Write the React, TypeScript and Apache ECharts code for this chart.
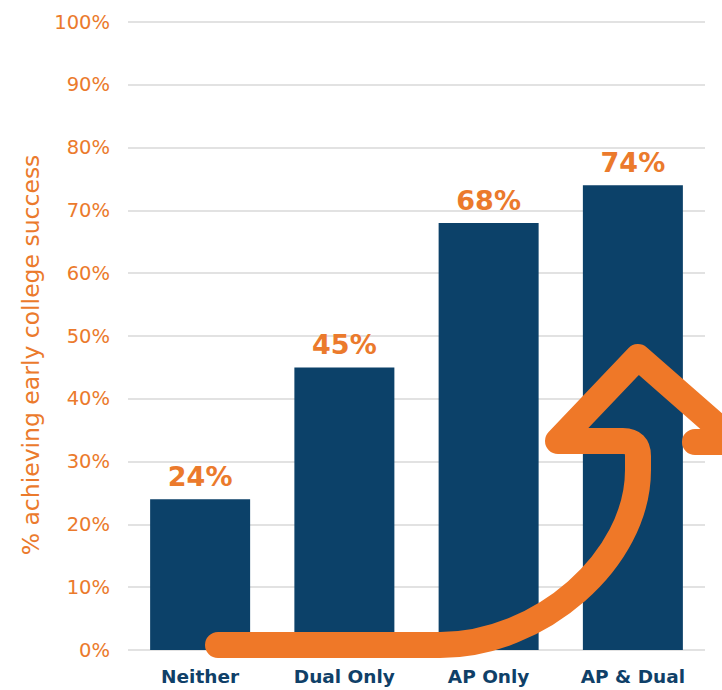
import React, { useEffect, useRef } from "react";
import * as echarts from "echarts";

const categories = ["Neither", "Dual Only", "AP Only", "AP & Dual"];
const values = [24, 45, 68, 74];
const yMin = 0;
const yMax = 100;
const yInterval = 10;
const axisTitle = "% achieving early college success";

const ORANGE_TEXT = "#EB7A2C";
const ORANGE_ARROW = "#EF7828";
const NAVY = "#0C4169";
const NAVY_TEXT = "#0F4068";

const ARROW_D =
  "M218 645 L440 645 C540 645 638 560 638 470 L638 456 Q638 441 623 441 L558 441 L638 357 L735 442 L695 442";

echarts.graphic.registerShape("logo", echarts.graphic.extendPath(ARROW_D, {}));

export default function App() {
  const ref = useRef<HTMLDivElement>(null);
  useEffect(() => {
    document.body.style.margin = "0";
    if (!ref.current) return;
    const chart = echarts.init(ref.current, undefined, { renderer: "svg" });
    chart.setOption({
      animation: false,
      backgroundColor: "#ffffff",
      grid: { left: 128, right: 17, top: 22, bottom: 40, containLabel: false },
      xAxis: {
        type: "category",
        data: categories,
        axisLine: { show: false },
        axisTick: { show: false },
        axisLabel: {
          color: NAVY_TEXT,
          fontFamily: "DejaVu Sans",
          fontSize: 18.5,
          fontWeight: "bold",
          margin: 17,
        },
      },
      yAxis: {
        type: "value",
        min: yMin,
        max: yMax,
        interval: yInterval,
        axisLine: { show: false },
        axisTick: { show: false },
        axisLabel: {
          formatter: "{value}%",
          color: ORANGE_TEXT,
          fontFamily: "DejaVu Sans",
          fontSize: 19.5,
          margin: 18,
        },
        splitLine: { lineStyle: { color: "#d9d9d9", width: 1.5 } },
      },
      series: [
        {
          type: "bar",
          data: values,
          barWidth: 100,
          itemStyle: { color: NAVY },
          label: {
            show: true,
            position: "top",
            distance: 9,
            formatter: "{c}%",
            color: ORANGE_TEXT,
            fontFamily: "DejaVu Sans",
            fontSize: 27,
            fontWeight: "bold",
          },
        },
      ],
      graphic: [
        {
          type: "text",
          x: 31,
          y: 355,
          rotation: Math.PI / 2,
          style: {
            text: axisTitle,
            fill: ORANGE_TEXT,
            font: "23.5px 'DejaVu Sans'",
            textAlign: "center",
            textVerticalAlign: "middle",
          },
        },
        {
          type: "logo",
          x: 0,
          y: 0,
          z: 100,
          style: {
            fill: "none",
            stroke: ORANGE_ARROW,
            lineWidth: 26,
            lineCap: "round",
            lineJoin: "round",
          },
        },
      ],
    });
    return () => chart.dispose();
  }, []);
  return <div ref={ref} style={{ width: 722, height: 690 }} />;
}
